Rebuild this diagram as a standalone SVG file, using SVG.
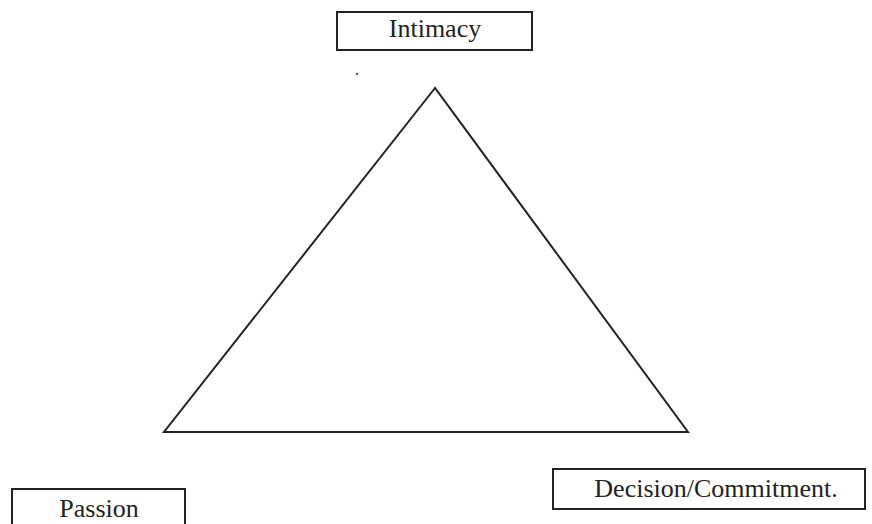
<svg xmlns="http://www.w3.org/2000/svg" width="872" height="524" viewBox="0 0 872 524">
<style>
.box{fill:#fff;stroke:#222;stroke-width:2}
.lbl{font-family:"Liberation Serif",serif;font-size:26px;fill:#222;text-anchor:middle}
.edge{fill:none;stroke:#222;stroke-width:2;stroke-linejoin:miter}
</style>
<rect width="872" height="524" fill="#fff"/>
<g id="connectors">
<polygon class="edge" points="435,88 164,432 688,432"/>
</g>
<circle cx="357" cy="74" r="1.2" fill="#555"/>
<g id="intimacy">
<rect class="box" x="337" y="12" width="195" height="38"/>
<text class="lbl" x="435" y="37">Intimacy</text>
</g>
<g id="passion">
<rect class="box" x="12" y="489" width="173" height="45"/>
<text class="lbl" x="99" y="517">Passion</text>
</g>
<g id="decision">
<rect class="box" x="553" y="469" width="312" height="40"/>
<text class="lbl" x="716" y="497">Decision/Commitment.</text>
</g>
</svg>
